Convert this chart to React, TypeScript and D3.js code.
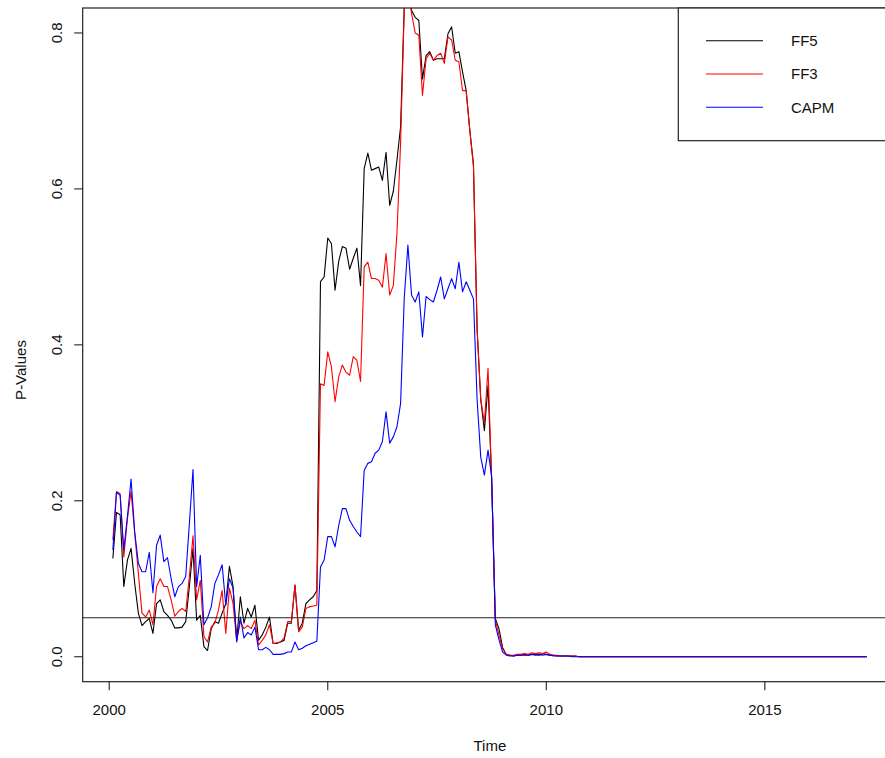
import React from "react";
import * as d3 from "d3";

// Monthly series, starting February 2000 (one row per calendar year)
const startYear = 2000;
const startMonth = 2;

const ff5: number[] = [
  0.126, 0.185, 0.182, 0.090, 0.124, 0.139, 0.094, 0.056, 0.040, 0.045, 0.049,
  0.030, 0.068, 0.073, 0.058, 0.053, 0.047, 0.037, 0.037, 0.038, 0.045, 0.090, 0.139,
  0.047, 0.053, 0.013, 0.008, 0.036, 0.045, 0.043, 0.056, 0.068, 0.116, 0.090, 0.021,
  0.077, 0.043, 0.062, 0.051, 0.066, 0.021, 0.028, 0.038, 0.051, 0.017, 0.017, 0.019,
  0.021, 0.043, 0.043, 0.092, 0.034, 0.043, 0.068, 0.073, 0.077, 0.085, 0.481, 0.487,
  0.537, 0.530, 0.470, 0.507, 0.526, 0.524, 0.497, 0.511, 0.524, 0.476, 0.626, 0.646,
  0.624, 0.626, 0.628, 0.611, 0.647, 0.579, 0.597, 0.637, 0.680, 0.835, 0.870, 0.829,
  0.820, 0.816, 0.741, 0.771, 0.776, 0.765, 0.767, 0.767, 0.767, 0.799, 0.808, 0.774,
  0.776, 0.750, 0.726, 0.675, 0.632, 0.420, 0.330, 0.290, 0.348, 0.226, 0.049, 0.036,
  0.012, 0.003, 0.002, 0.001, 0.002, 0.002, 0.003, 0.002, 0.003, 0.003, 0.002, 0.004,
  0.003, 0.002, 0.002, 0.001, 0.001, 0.001, 0.001, 0.001, 0.001, 0.000, 0.000, 0.000,
  0, 0, 0, 0, 0, 0, 0, 0, 0, 0, 0, 0,
  0, 0, 0, 0, 0, 0, 0, 0, 0, 0, 0, 0,
  0, 0, 0, 0, 0, 0, 0, 0, 0, 0, 0, 0,
  0, 0, 0, 0, 0, 0, 0, 0, 0, 0, 0, 0,
  0, 0, 0, 0, 0, 0, 0, 0, 0, 0, 0, 0,
  0, 0, 0, 0, 0, 0, 0, 0, 0, 0, 0, 0,
  0, 0, 0, 0, 0,
];

const ff3: number[] = [
  0.150, 0.212, 0.209, 0.128, 0.177, 0.212, 0.158, 0.107, 0.056, 0.051, 0.060,
  0.041, 0.090, 0.100, 0.090, 0.090, 0.073, 0.052, 0.058, 0.062, 0.058, 0.103, 0.155,
  0.073, 0.098, 0.026, 0.019, 0.038, 0.043, 0.060, 0.085, 0.030, 0.088, 0.068, 0.021,
  0.045, 0.036, 0.040, 0.036, 0.047, 0.015, 0.021, 0.028, 0.041, 0.017, 0.018, 0.019,
  0.024, 0.045, 0.045, 0.092, 0.032, 0.038, 0.062, 0.064, 0.065, 0.066, 0.350, 0.348,
  0.391, 0.372, 0.327, 0.359, 0.374, 0.365, 0.361, 0.385, 0.380, 0.353, 0.500, 0.506,
  0.485, 0.485, 0.483, 0.474, 0.517, 0.464, 0.476, 0.543, 0.660, 0.830, 0.860, 0.825,
  0.800, 0.797, 0.720, 0.767, 0.774, 0.765, 0.771, 0.774, 0.761, 0.795, 0.791, 0.765,
  0.763, 0.726, 0.726, 0.675, 0.628, 0.420, 0.330, 0.300, 0.370, 0.226, 0.047, 0.028,
  0.010, 0.003, 0.002, 0.002, 0.003, 0.003, 0.004, 0.003, 0.005, 0.004, 0.005, 0.004,
  0.006, 0.003, 0.002, 0.002, 0.001, 0.001, 0.001, 0.001, 0.001, 0.000, 0.000, 0.000,
  0, 0, 0, 0, 0, 0, 0, 0, 0, 0, 0, 0,
  0, 0, 0, 0, 0, 0, 0, 0, 0, 0, 0, 0,
  0, 0, 0, 0, 0, 0, 0, 0, 0, 0, 0, 0,
  0, 0, 0, 0, 0, 0, 0, 0, 0, 0, 0, 0,
  0, 0, 0, 0, 0, 0, 0, 0, 0, 0, 0, 0,
  0, 0, 0, 0, 0, 0, 0, 0, 0, 0, 0, 0,
  0, 0, 0, 0, 0,
];

const capm: number[] = [
  0.137, 0.211, 0.207, 0.137, 0.180, 0.228, 0.160, 0.120, 0.109, 0.109, 0.134,
  0.082, 0.143, 0.156, 0.122, 0.127, 0.100, 0.077, 0.090, 0.094, 0.103, 0.170, 0.240,
  0.090, 0.130, 0.041, 0.050, 0.064, 0.094, 0.105, 0.118, 0.066, 0.100, 0.088, 0.019,
  0.051, 0.024, 0.031, 0.028, 0.038, 0.009, 0.009, 0.012, 0.009, 0.003, 0.003, 0.003,
  0.004, 0.006, 0.006, 0.019, 0.009, 0.011, 0.014, 0.016, 0.018, 0.020, 0.115, 0.124,
  0.154, 0.154, 0.141, 0.168, 0.190, 0.190, 0.175, 0.167, 0.160, 0.154, 0.239, 0.248,
  0.250, 0.261, 0.265, 0.276, 0.314, 0.274, 0.282, 0.295, 0.325, 0.460, 0.528, 0.464,
  0.455, 0.468, 0.410, 0.462, 0.458, 0.455, 0.470, 0.487, 0.459, 0.472, 0.485, 0.472,
  0.506, 0.468, 0.481, 0.470, 0.459, 0.330, 0.256, 0.233, 0.265, 0.231, 0.041, 0.022,
  0.006, 0.002, 0.001, 0.001, 0.002, 0.002, 0.002, 0.002, 0.003, 0.002, 0.003, 0.002,
  0.003, 0.002, 0.001, 0.001, 0.001, 0.001, 0.001, 0.000, 0.000, 0.000, 0.000, 0.000,
  0, 0, 0, 0, 0, 0, 0, 0, 0, 0, 0, 0,
  0, 0, 0, 0, 0, 0, 0, 0, 0, 0, 0, 0,
  0, 0, 0, 0, 0, 0, 0, 0, 0, 0, 0, 0,
  0, 0, 0, 0, 0, 0, 0, 0, 0, 0, 0, 0,
  0, 0, 0, 0, 0, 0, 0, 0, 0, 0, 0, 0,
  0, 0, 0, 0, 0, 0, 0, 0, 0, 0, 0, 0,
  0, 0, 0, 0, 0,
];

const seriesNames = ["FF5", "FF3", "CAPM"];
const seriesColors = ["#000000", "#ff0000", "#0000ff"];
const xTicks = [2000, 2005, 2010, 2015];
const yTicks = [0, 0.2, 0.4, 0.6, 0.8];
const yLimits = [0, 0.8];
const threshold = 0.05;
const xTitle = "Time";
const yTitle = "P-Values";

const W = 885;
const H = 758;
const plot = { left: 82.7, right: 897, top: 8, bottom: 681.7 };
const FONT = "'Liberation Sans', Arial, Helvetica, sans-serif";

export default function App() {
  const series = [ff5, ff3, capm];
  const n = ff5.length;
  const times = d3.range(n).map((i) => startYear + (startMonth - 1 + i) / 12);

  // R-style 4% padding on both axes
  const t0 = times[0];
  const t1 = times[n - 1];
  const padT = (t1 - t0) * 0.04;
  const x = d3.scaleLinear().domain([t0 - padT, t1 + padT]).range([plot.left, plot.right]);
  const padY = (yLimits[1] - yLimits[0]) * 0.04;
  const y = d3
    .scaleLinear()
    .domain([yLimits[0] - padY, yLimits[1] + padY])
    .range([plot.bottom, plot.top]);

  const line = d3
    .line<number>()
    .x((_, i) => x(times[i]))
    .y((d) => y(d));

  const tickLen = 8.5;
  const legend = { left: 678.3, top: plot.top, bottom: 140.7, lineX0: 706, lineX1: 763, textX: 791, rowY: [40.7, 74, 107.3] };

  return (
    <svg
      width={W}
      height={H}
      style={{ position: "absolute", left: 0, top: 0, background: "#fff" }}
      fontFamily={FONT}
    >
      <defs>
        <clipPath id="plot-clip">
          <rect x={plot.left} y={plot.top} width={plot.right - plot.left} height={plot.bottom - plot.top} />
        </clipPath>
      </defs>
      <rect x={0} y={0} width={W} height={H} fill="#fff" />

      <g clipPath="url(#plot-clip)">
        {series.map((s, k) => (
          <path key={seriesNames[k]} d={line(s) || ""} fill="none" stroke={seriesColors[k]} strokeWidth={1.1} strokeLinejoin="round" />
        ))}
        <line x1={plot.left} x2={plot.right} y1={y(threshold)} y2={y(threshold)} stroke="#222" strokeWidth={1.1} />
      </g>

      {/* plot frame */}
      <rect
        x={plot.left}
        y={plot.top}
        width={plot.right - plot.left}
        height={plot.bottom - plot.top}
        fill="none"
        stroke="#222"
        strokeWidth={1.2}
      />

      {/* x axis */}
      {xTicks.map((t) => (
        <g key={t}>
          <line x1={x(t)} x2={x(t)} y1={plot.bottom} y2={plot.bottom + tickLen} stroke="#222" strokeWidth={1.1} />
          <text x={x(t)} y={715} textAnchor="middle" fontSize={15} fill="#111">
            {t}
          </text>
        </g>
      ))}
      <text x={(plot.left + plot.right) / 2} y={751} textAnchor="middle" fontSize={15} fill="#111">
        {xTitle}
      </text>

      {/* y axis */}
      {yTicks.map((v) => (
        <g key={v}>
          <line x1={plot.left - tickLen} x2={plot.left} y1={y(v)} y2={y(v)} stroke="#222" strokeWidth={1.1} />
          <text transform={`translate(62,${y(v)}) rotate(-90)`} textAnchor="middle" fontSize={15} fill="#111">
            {d3.format(".1f")(v)}
          </text>
        </g>
      ))}
      <text transform={`translate(26,370) rotate(-90)`} textAnchor="middle" fontSize={15} fill="#111">
        {yTitle}
      </text>

      {/* legend */}
      <rect
        x={legend.left}
        y={legend.top}
        width={plot.right - legend.left}
        height={legend.bottom - legend.top}
        fill="#fff"
        stroke="#222"
        strokeWidth={1.2}
      />
      {seriesNames.map((name, k) => (
        <g key={name}>
          <line
            x1={legend.lineX0}
            x2={legend.lineX1}
            y1={legend.rowY[k]}
            y2={legend.rowY[k]}
            stroke={seriesColors[k]}
            strokeWidth={1.1}
          />
          <text x={legend.textX} y={legend.rowY[k]} dy="0.36em" fontSize={15} fill="#111">
            {name}
          </text>
        </g>
      ))}
    </svg>
  );
}
